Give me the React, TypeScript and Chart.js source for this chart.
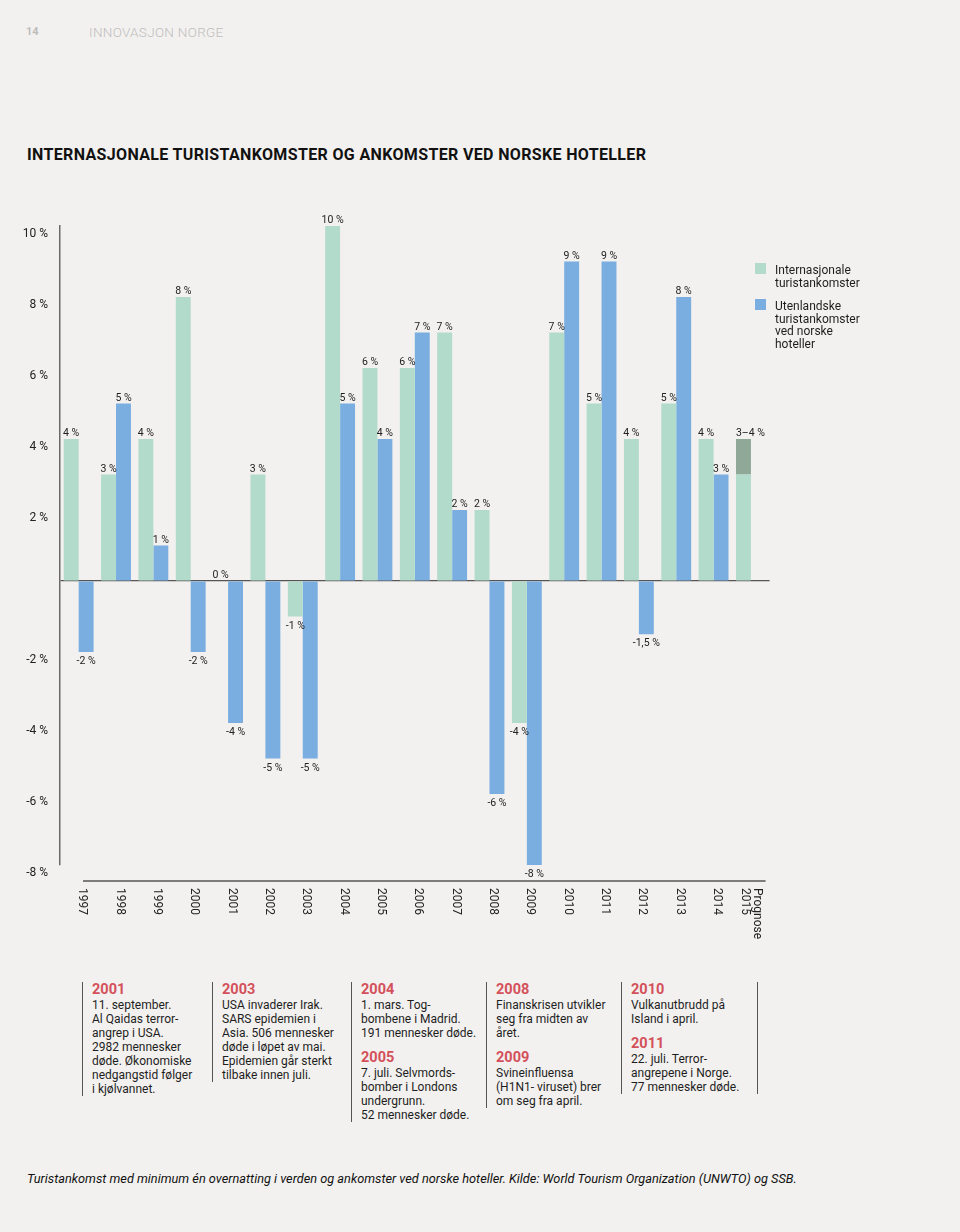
import React, { useEffect, useRef } from 'react';
import { Chart, registerables } from 'chart.js';

Chart.register(...registerables);

// ---------- DATA ----------
const years = ['1997', '1998', '1999', '2000', '2001', '2002', '2003', '2004', '2005', '2006', '2007', '2008', '2009', '2010', '2011', '2012', '2013', '2014', 'Prognose 2015'];
// Internasjonale turistankomster (%), last = lower end of 2015 forecast
const internasjonale = [4, 3, 4, 8, 0, 3, -1, 10, 6, 6, 7, 2, -4, 7, 5, 4, 5, 4, 3];
// Utenlandske turistankomster ved norske hoteller (%)
const utenlandske = [-2, 5, 1, -2, -4, -5, -5, 5, 4, 7, 2, -6, -8, 9, 9, -1.5, 8, 3, null];
// Forecast range for 2015 (3–4 %)
const prognoseLow = 3;
const prognoseHigh = 4;
const prognoseIndex = years.length - 1;
const prognoseExtra = years.map((_, i) => (i === prognoseIndex ? prognoseHigh - prognoseLow : null));
const yTicks = [10, 8, 6, 4, 2, 0, -2, -4, -6, -8];

const GREEN = '#b2dbcb';
const BLUE = '#7aaee1';
const DARK = '#8fa898';
const BG = '#f3f1ef';
const FONT = 'Roboto, "Noto Sans", sans-serif';

const fmt = (v: number) => `${String(v).replace('.', ',')} %`;

const overlayPlugin = {
  id: 'overlay',
  afterDatasetsDraw(chart: any) {
    const ctx = chart.ctx as CanvasRenderingContext2D;
    const area = chart.chartArea;
    ctx.save();
    // value labels
    ctx.font = `10.5px ${FONT}`;
    ctx.fillStyle = '#222';
    ctx.textAlign = 'center';
    ctx.textBaseline = 'alphabetic';
    const drawVal = (el: any, v: number, text: string, dx = 0) => {
      if (v >= 0) ctx.fillText(text, el.x + dx, el.y - 3);
      else ctx.fillText(text, el.x + dx, el.y + 12);
    };
    const mG = chart.getDatasetMeta(0);
    mG.data.forEach((el: any, i: number) => {
      if (i === prognoseIndex) return;
      const v = internasjonale[i];
      if (v === null || v === undefined) return;
      drawVal(el, v, fmt(v));
    });
    const mD = chart.getDatasetMeta(1);
    const elD = mD.data[prognoseIndex];
    if (elD) drawVal(elD, prognoseHigh, `${prognoseLow}\u2013${prognoseHigh} %`, 7);
    const mB = chart.getDatasetMeta(2);
    mB.data.forEach((el: any, i: number) => {
      const v = utenlandske[i];
      if (v === null || v === undefined) return;
      drawVal(el, v, fmt(v));
    });

    // bottom axis line
    ctx.strokeStyle = '#555';
    ctx.lineWidth = 1.5;
    ctx.beginPath();
    ctx.moveTo(area.left + 23, area.bottom + 16);
    ctx.lineTo(area.right - 4, area.bottom + 16);
    ctx.stroke();

    // rotated category labels (reading top to bottom)
    const xs = chart.scales.x;
    ctx.font = `12px ${FONT}`;
    ctx.fillStyle = '#222';
    ctx.textAlign = 'left';
    ctx.textBaseline = 'middle';
    years.forEach((lab, i) => {
      const cx = xs.getPixelForValue(i);
      const lines = lab.split(' ');
      const n = lines.length;
      lines.forEach((line, j) => {
        const off = n === 1 ? 3.5 : ((n - 1) / 2 - j) * 12.5;
        ctx.save();
        ctx.translate(cx + off, area.bottom + 23);
        ctx.rotate(Math.PI / 2);
        ctx.fillText(line, 0, 0);
        ctx.restore();
      });
    });
    ctx.restore();
  },
};

function BarChart() {
  const ref = useRef<HTMLCanvasElement | null>(null);
  useEffect(() => {
    if (!ref.current) return;
    const chart = new Chart(ref.current, {
      type: 'bar',
      data: {
        labels: years,
        datasets: [
          { label: 'Internasjonale turistankomster', data: internasjonale, backgroundColor: GREEN, stack: 'a', categoryPercentage: 0.8, barPercentage: 1.0 },
          { label: 'Prognose', data: prognoseExtra, backgroundColor: DARK, stack: 'a', categoryPercentage: 0.8, barPercentage: 1.0 },
          { label: 'Utenlandske turistankomster ved norske hoteller', data: utenlandske, backgroundColor: BLUE, stack: 'b', categoryPercentage: 0.8, barPercentage: 1.0 },
        ],
      } as any,
      options: {
        responsive: false,
        animation: false,
        maintainAspectRatio: false,
        layout: { padding: { left: 8, right: 190.4, top: 26, bottom: 95 } },
        plugins: { legend: { display: false }, tooltip: { enabled: false } },
        scales: {
          x: {
            grid: { display: false, drawTicks: false },
            border: { display: false },
            ticks: { display: false },
            afterFit: (s: any) => { s.height = 0; },
          },
          y: {
            stacked: true,
            min: -8,
            max: 10,
            afterBuildTicks: (s: any) => { s.ticks = yTicks.map((v) => ({ value: v })); },
            afterFit: (s: any) => { s.width = 52; },
            grid: {
              drawTicks: false,
              color: (c: any) => (c.tick && c.tick.value === 0 ? '#555' : 'rgba(0,0,0,0)'),
              lineWidth: 1.2,
            },
            border: { display: true, color: '#6a6a6a', width: 1.5 },
            ticks: {
              padding: 12,
              labelOffset: 8,
              color: '#222',
              font: { family: FONT, size: 12 },
              callback: (v: any) => (Number(v) === 0 ? '' : `${v} %`),
            },
          },
        },
      } as any,
      plugins: [overlayPlugin],
    });
    return () => chart.destroy();
  }, []);
  return <canvas ref={ref} width={960} height={760} style={{ position: 'absolute', left: 0, top: 200, width: 960, height: 760 }} />;
}

const notes: { x: number; items: { year: string; lines: string[] }[] }[] = [
  { x: 82, items: [{ year: '2001', lines: ['11. september.', 'Al Qaidas terror-', 'angrep i USA.', '2982 mennesker', 'døde. Økonomiske', 'nedgangstid følger', 'i kjølvannet.'] }] },
  { x: 212, items: [{ year: '2003', lines: ['USA invaderer Irak.', 'SARS epidemien i', 'Asia. 506 mennesker', 'døde i løpet av mai.', 'Epidemien går sterkt', 'tilbake innen juli.'] }] },
  { x: 351, items: [
    { year: '2004', lines: ['1. mars. Tog-', 'bombene i Madrid.', '191 mennesker døde.'] },
    { year: '2005', lines: ['7. juli. Selvmords-', 'bomber i Londons', 'undergrunn.', '52 mennesker døde.'] },
  ] },
  { x: 486, items: [
    { year: '2008', lines: ['Finanskrisen utvikler', 'seg fra midten av', 'året.'] },
    { year: '2009', lines: ['Svineinfluensa', '(H1N1- viruset) brer', 'om seg fra april.'] },
  ] },
  { x: 621, items: [
    { year: '2010', lines: ['Vulkanutbrudd på', 'Island i april.'] },
    { year: '2011', lines: ['22. juli. Terror-', 'angrepene i Norge.', '77 mennesker døde.'] },
  ] },
];

export default function App() {
  useEffect(() => {
    document.body.style.margin = '0';
  }, []);
  const abs = (o: any) => ({ position: 'absolute', ...o } as React.CSSProperties);
  return (
    <div style={{ position: 'absolute', left: 0, top: 0, width: 960, height: 1232, background: BG, fontFamily: FONT, color: '#1e1e1e', overflow: 'hidden' }}>
      <div style={abs({ left: 26, top: 24, fontSize: 11, lineHeight: '16px', fontWeight: 700, color: '#bdbdbd' })}>14</div>
      <div style={abs({ left: 89, top: 24, fontSize: 13.5, lineHeight: '16px', fontWeight: 300, color: '#bdbdbd', letterSpacing: 0.3 })}>INNOVASJON NORGE</div>
      <div style={abs({ left: 27, top: 145, fontSize: 16, lineHeight: '20px', fontWeight: 700, color: '#111', whiteSpace: 'nowrap', letterSpacing: 0.35 })}>
        INTERNASJONALE TURISTANKOMSTER OG ANKOMSTER VED NORSKE HOTELLER
      </div>

      <BarChart />

      {/* legend */}
      <div style={abs({ left: 755, top: 263, width: 11, height: 11, background: GREEN })} />
      <div style={abs({ left: 775, top: 264, fontSize: 12, lineHeight: '12.6px', whiteSpace: 'nowrap' })}>Internasjonale<br />turistankomster</div>
      <div style={abs({ left: 755, top: 299, width: 11, height: 11, background: BLUE })} />
      <div style={abs({ left: 775, top: 300, fontSize: 12, lineHeight: '12.6px', whiteSpace: 'nowrap' })}>Utenlandske<br />turistankomster<br />ved norske<br />hoteller</div>

      {/* notes */}
      {notes.map((col, ci) => (
        <div key={ci} style={abs({ left: col.x, top: 982, borderLeft: '1.5px solid #555', borderRight: ci === notes.length - 1 ? '1.5px solid #555' : undefined, width: ci === notes.length - 1 ? 126 : undefined, paddingLeft: 9, whiteSpace: 'nowrap' })}>
          {col.items.map((it, k) => (
            <div key={k} style={{ marginTop: k === 0 ? 0 : 10 }}>
              <div style={{ fontSize: 14.5, lineHeight: '16px', fontWeight: 700, color: '#d4505b' }}>{it.year}</div>
              {it.lines.map((l, li) => (
                <div key={li} style={{ fontSize: 12, lineHeight: '14px' }}>{l}</div>
              ))}
            </div>
          ))}
        </div>
      ))}

      <div style={abs({ left: 27, top: 1171, fontSize: 12.75, lineHeight: '16px', fontStyle: 'italic', color: '#111', whiteSpace: 'nowrap' })}>
        Turistankomst med minimum én overnatting i verden og ankomster ved norske hoteller. Kilde: World Tourism Organization (UNWTO) og SSB.
      </div>
    </div>
  );
}
